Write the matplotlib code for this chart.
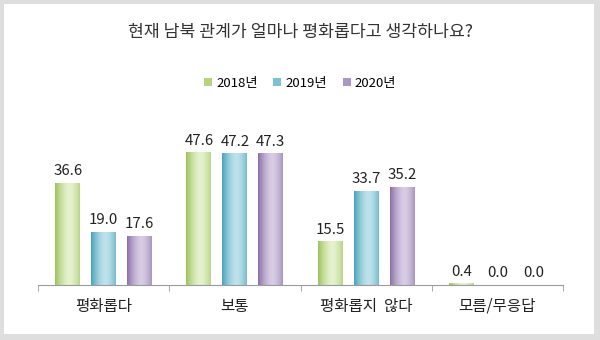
import numpy as np
import matplotlib.pyplot as plt
from matplotlib.patches import Rectangle, Patch
from matplotlib.colors import to_rgb

plt.rcParams['font.family'] = ['Noto Sans CJK KR', 'DejaVu Sans']

# data
categories = ['평화롭다', '보통', '평화롭지  않다', '모름/무응답']
years = ['2018년', '2019년', '2020년']
v2018 = [36.6, 47.6, 15.5, 0.4]
v2019 = [19.0, 47.2, 33.7, 0.0]
v2020 = [17.6, 47.3, 35.2, 0.0]
series = [v2018, v2019, v2020]

# edge / highlight colour for the cylinder-like shading
edge_cols = ['#9cc35a', '#48a3bd', '#8a70a8']
light_cols = ['#e6f2cf', '#bfe2ea', '#d8cde4']
mid_cols = ['#b5d483', '#7cc0d3', '#ab97c4']

fig = plt.figure(figsize=(6, 3.4), dpi=100)
fig.patch.set_facecolor('#dedede')
fig.patches.append(Rectangle((4 / 600, 6 / 340), 590 / 600, 330 / 340,
                             transform=fig.transFigure, facecolor='white',
                             edgecolor='none', zorder=-10))

ax = fig.add_axes([38 / 600, 55 / 340, 525 / 600, 166.8 / 340])
ax.set_facecolor('none')
ax.set_zorder(5)

x = np.arange(len(categories))
step = 0.274
width = 0.19


def shade(c_edge, c_light, n=64):
    t = np.linspace(0, 1, n)
    w = 1 - np.clip(np.abs(t - 0.58) / 0.58, 0, 1) ** 1.6
    e = np.array(to_rgb(c_edge))
    l = np.array(to_rgb(c_light))
    return (e[None, :] * (1 - w[:, None]) + l[None, :] * w[:, None])[None, :, :]


for i, vals in enumerate(series):
    bars = ax.bar(x + (i - 1) * step, vals, width, color='none', zorder=2)
    img = shade(edge_cols[i], light_cols[i])
    for b, v in zip(bars, vals):
        x0, w, h = b.get_x(), b.get_width(), b.get_height()
        if h > 0:
            ax.imshow(img, extent=[x0, x0 + w, 0, max(h, 0.3)], aspect='auto',
                      interpolation='bilinear', zorder=2)
        ax.text(x0 + w / 2, h + 1.8, f'{v:.1f}', ha='center', va='bottom',
                fontsize=10.8, color='#222222')

ax.set_xlim(-0.5, len(categories) - 0.5)
ax.set_ylim(0, 60)
ax.set_yticks([])
for s in ['top', 'right', 'left']:
    ax.spines[s].set_visible(False)
ax.spines['bottom'].set_color('#9a9a9a')
ax.set_xticks(np.arange(len(categories) + 1) - 0.5, minor=True)
ax.tick_params(axis='x', which='minor', length=4, color='#9a9a9a')
ax.set_xticks(x)
ax.set_xticklabels(categories, fontsize=11.2, color='#222222')
ax.tick_params(axis='x', which='major', length=0, pad=9)

fig.text(0.5, 1 - 32 / 340, '현재 남북 관계가 얼마나 평화롭다고 생각하나요?',
         ha='center', va='center', fontsize=12.4, color='#333333')

handles = [Patch(facecolor=mid_cols[i], edgecolor='none') for i in range(3)]
fig.legend(handles, years, loc='center', bbox_to_anchor=(0.5, 1 - 83 / 340),
           ncol=3, frameon=False, fontsize=9.5, handlelength=0.6, handleheight=0.6,
           handletextpad=0.3, columnspacing=1.2)

fig.savefig('out.png', dpi=100, facecolor=fig.get_facecolor())
